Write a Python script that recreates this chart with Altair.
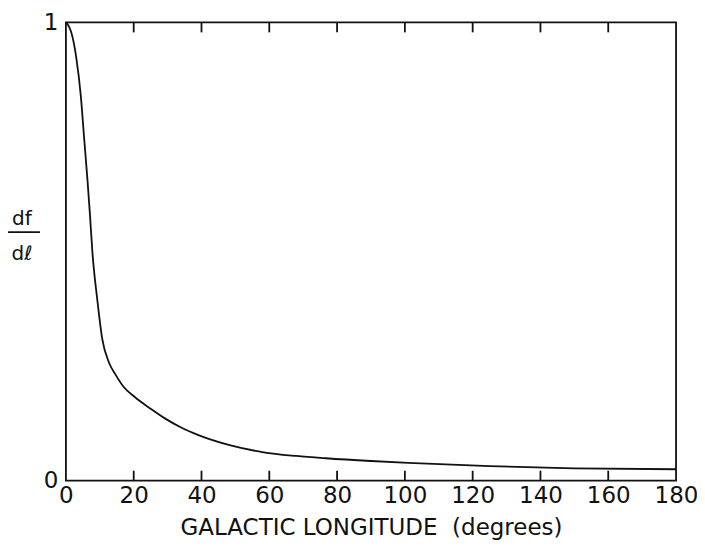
import altair as alt
import pandas as pd

# curve
longitude = [0, 0.6, 1.5, 3.0, 4.4, 5.4, 6.4, 7.1, 7.8, 9.3, 10.7, 12.7, 14.6, 17.0,
             20.4, 25.0, 29.2, 34.0, 38.9, 48.6, 58.3, 68.0, 76.7, 90.0, 101.0,
             125.0, 150.0, 180.0]
dfdl = [1.0, 0.995, 0.98, 0.926, 0.839, 0.745, 0.652, 0.58, 0.5, 0.392, 0.31, 0.258,
        0.232, 0.205, 0.182, 0.157, 0.136, 0.116, 0.10, 0.077, 0.062, 0.054, 0.049,
        0.043, 0.039, 0.032, 0.027, 0.025]

x_ticks = [0, 20, 40, 60, 80, 100, 120, 140, 160, 180]
inner_ticks = [20, 40, 60, 80, 100, 120, 140, 160]
y_ticks = [0, 1]

FONT = "DejaVu Sans"

curve = pd.DataFrame({"l": longitude, "v": dfdl})
ticks = pd.DataFrame({"t": inner_ticks})

xscale = alt.Scale(domain=[0, 180], nice=False)
yscale = alt.Scale(domain=[0, 1], nice=False)

line = alt.Chart(curve).mark_line(color="#111", strokeWidth=1.8, interpolate="monotone").encode(
    x=alt.X("l:Q", scale=xscale,
            axis=alt.Axis(values=x_ticks, title="GALACTIC LONGITUDE\u00a0\u00a0(degrees)",
                          labelFontSize=23, labelPadding=4, labelFont=FONT,
                          labelColor="#111", labelFlush=False, labelOverlap=False,
                          titleFontSize=23, titleFont=FONT, titleFontWeight="normal",
                          titleColor="#111", titlePadding=9, grid=False,
                          ticks=False, domain=False)),
    y=alt.Y("v:Q", scale=yscale,
            axis=alt.Axis(values=y_ticks, format="d", title=None,
                          labelFontSize=23, labelPadding=8, labelFont=FONT,
                          labelColor="#111", labelFlush=False, labelOverlap=False,
                          grid=False, ticks=False, domain=False)),
)

bottom_ticks = alt.Chart(ticks).mark_rule(color="#111", strokeWidth=1.8).encode(
    x=alt.X("t:Q", scale=xscale),
    y=alt.value(459), y2=alt.value(449),
)
top_ticks = alt.Chart(ticks).mark_rule(color="#111", strokeWidth=1.8).encode(
    x=alt.X("t:Q", scale=xscale),
    y=alt.value(0), y2=alt.value(10),
)

lbl = pd.DataFrame({"txt": ["df", "dℓ"], "ypos": [197, 232]})
frac_text = alt.Chart(lbl).mark_text(font=FONT, fontSize=20, color="#111",
                                     align="center", baseline="middle").encode(
    text="txt:N", x=alt.value(-44), y=alt.Y("ypos:Q", scale=None),
)
frac_bar = alt.Chart(pd.DataFrame({"a": [0]})).mark_rule(color="#111", strokeWidth=1.8).encode(
    x=alt.value(-61), x2=alt.value(-26), y=alt.value(210),
)

chart = alt.layer(line, bottom_ticks, top_ticks, frac_text, frac_bar).properties(
    width=611, height=459,
    padding={"left": 58, "top": 14, "right": 21, "bottom": 61},
    autosize=alt.AutoSizeParams(type="none"),
    background="white",
).configure_view(stroke="#111", strokeWidth=1.8).configure_axis(
    domain=False, ticks=False, grid=False
)

chart.save("out.html", embed_options={"renderer": "svg", "actions": False})
